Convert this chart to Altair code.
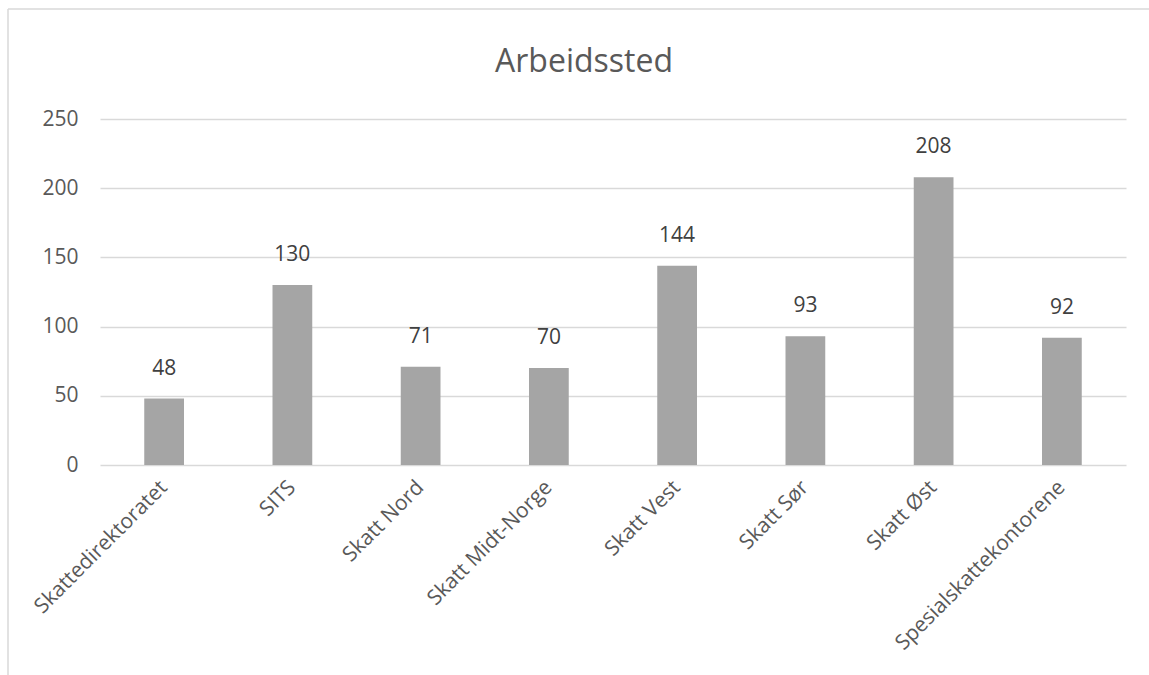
import altair as alt
import pandas as pd

categories = ["Skattedirektoratet", "SITS", "Skatt Nord", "Skatt Midt-Norge",
              "Skatt Vest", "Skatt Sør", "Skatt Øst", "Spesialskattekontorene"]
values = [48, 130, 71, 70, 144, 93, 208, 92]
y_ticks = [0, 50, 100, 150, 200, 250]
title_text = ["Arbeidssted"]

df = pd.DataFrame({"sted": categories, "antall": values})
df_title = pd.DataFrame({"t": title_text})

FONT = "Open Sans"

x_enc = alt.X("sted:N", sort=categories, title=None,
              scale=alt.Scale(paddingInner=0.69, paddingOuter=0.345),
              axis=alt.Axis(labelAngle=-45, labelAlign="right", labelBaseline="middle",
                            labelFontSize=21, labelColor="#595959", labelFont=FONT,
                            labelPadding=19, domain=False, ticks=False, grid=False,
                            labelLimit=400))
y_enc = alt.Y("antall:Q", title=None,
              scale=alt.Scale(domain=[0, 250], nice=False),
              axis=alt.Axis(values=y_ticks, labelFontSize=21, labelColor="#595959",
                            labelFont=FONT, labelPadding=22, domain=False, ticks=False,
                            grid=True, gridColor="#D9D9D9", gridWidth=1.3))

bars = alt.Chart(df).mark_bar(color="#A5A5A5").encode(x=x_enc, y=y_enc)

labels = alt.Chart(df).mark_text(baseline="bottom", dy=-20, fontSize=21,
                                 color="#404040", font=FONT).encode(
    x=alt.X("sted:N", sort=categories),
    y=alt.Y("antall:Q"),
    text=alt.Text("antall:Q"))

title = alt.Chart(df_title).mark_text(baseline="alphabetic", align="center", fontSize=32,
                                      color="#595959", font=FONT).encode(
    x=alt.value(484), y=alt.value(-47), text="t:N")

frame_left = alt.Chart(df_title).mark_rule(color="#D9D9D9", strokeWidth=1.5, clip=False).encode(
    x=alt.value(-92), y=alt.value(-110), y2=alt.value(700))
frame_top = alt.Chart(df_title).mark_rule(color="#D9D9D9", strokeWidth=1.5, clip=False).encode(
    x=alt.value(-92), x2=alt.value(1200), y=alt.value(-110))

chart = alt.layer(frame_left, frame_top, bars, labels, title,
                  view=alt.ViewBackground(stroke="transparent", strokeWidth=0)).properties(
    width=1026, height=346,
    autosize=alt.AutoSizeParams(type="none"),
    padding={"left": 100, "top": 119, "right": 23, "bottom": 210},
).configure_view(strokeWidth=0, stroke="transparent").configure(background="white")

chart.save("out.html", embed_options={"renderer": "svg", "actions": False})
